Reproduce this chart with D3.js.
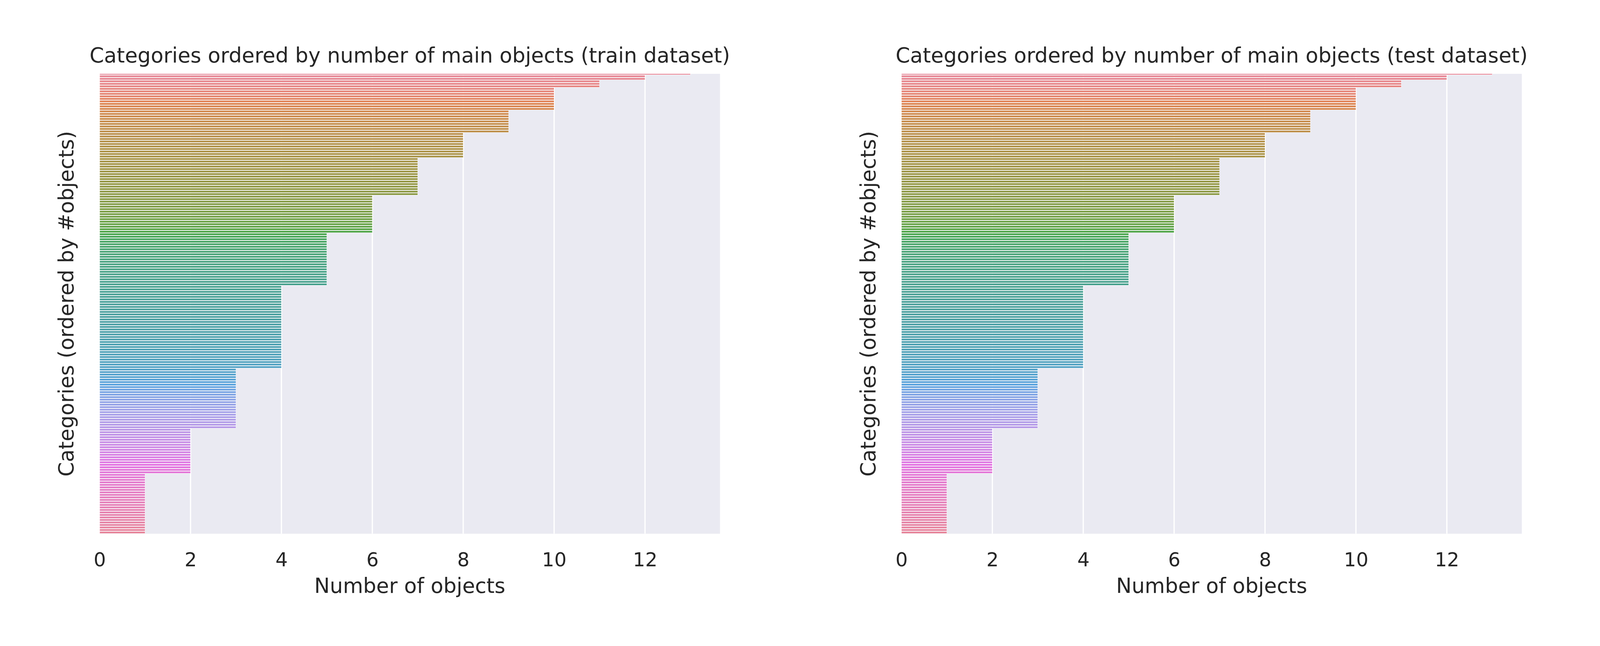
<!DOCTYPE html>
<html>
<head>
<meta charset="utf-8">
<script src="https://cdn.jsdelivr.net/npm/d3@7"></script>
<style>
  html, body { margin: 0; padding: 0; background: #fff; overflow: hidden; }
  #chart { display: block; width: 100vw; height: auto; }
  text { font-family: "DejaVu Sans", sans-serif; fill: #262626; }
</style>
</head>
<body>
<svg id="chart"></svg>
<script>
// number of main objects per category, run-length: how many categories have each count
const objectLevels = [13, 12, 11, 10, 9, 8, 7, 6, 5, 4, 3, 2, 1];
const trainCategoryCounts = [1, 2, 3, 9, 9, 10, 15, 15, 21, 33, 24, 18, 24];
const testCategoryCounts = [1, 2, 3, 9, 9, 10, 15, 15, 21, 33, 24, 18, 24];
const xTicks = [0, 2, 4, 6, 8, 10, 12];
const panelTitles = [
    "Categories ordered by number of main objects (train dataset)",
    "Categories ordered by number of main objects (test dataset)"
];
const xLabel = "Number of objects";
const yLabel = "Categories (ordered by #objects)";

const width = 4400;
const height = 1654;
const axTop = 203, axBottom = 1468;
const axW = 1706;
const axH = axBottom - axTop;
const panelX = [274, 2479];
const xMax = 13.65;

// seaborn's husl palette (husl.py), then barplot desaturation 0.75
const M = [[3.2406, -1.5372, -0.4986], [-0.9689, 1.8758, 0.0415], [0.0557, -0.2040, 1.0570]];
const refU = 0.19784, refV = 0.46834, kappa = 24389 / 27, epsilon = 216 / 24389;

function maxChroma(L, H) {
    const hrad = H / 360 * 2 * Math.PI;
    const sinH = Math.sin(hrad), cosH = Math.cos(hrad);
    const sub1 = Math.pow(L + 16, 3) / 1560896;
    const sub2 = sub1 > epsilon ? sub1 : L / kappa;
    let result = Infinity;
    M.forEach(([m1, m2, m3]) => {
        const topv = (0.99915 * m1 + 1.05122 * m2 + 1.14460 * m3) * sub2;
        const rbottom = 0.86330 * m3 - 0.17266 * m2;
        const lbottom = 0.12949 * m3 - 0.38848 * m1;
        const bottomv = (rbottom * sinH + lbottom * cosH) * sub2;
        [0, 1].forEach(t => {
            const C = L * (topv - 1.05122 * t) / (bottomv + 0.17266 * sinH * t);
            if (C > 0 && C < result) result = C;
        });
    });
    return result;
}

function huslToRgb(H, S, L) {
    const C = maxChroma(L, H) / 100 * S;
    const hrad = H / 360 * 2 * Math.PI;
    const U = Math.cos(hrad) * C, V = Math.sin(hrad) * C;
    const varY = L > 8 ? Math.pow((L + 16) / 116, 3) : L / kappa;
    const varU = U / (13 * L) + refU;
    const varV = V / (13 * L) + refV;
    const Y = varY;
    const X = -(9 * Y * varU) / ((varU - 4) * varV - varU * varV);
    const Z = (9 * Y - 15 * varV * Y - varV * X) / (3 * varV);
    return M.map(row => {
        const c = row[0] * X + row[1] * Y + row[2] * Z;
        const v = c <= 0.0031308 ? 12.92 * c : 1.055 * Math.pow(c, 1 / 2.4) - 0.055;
        return Math.max(0, Math.min(1, v));
    });
}

function huslPalette(n) {
    return d3.range(n).map(i => {
        const h = ((i / n + 0.01) % 1) * 359;
        const [r, g, b] = huslToRgb(h, 0.9 * 99, 0.65 * 99);
        const c = d3.hsl(d3.rgb(r * 255, g * 255, b * 255));
        c.s *= 0.75;
        return c.formatHex();
    });
}

const svg = d3.select("#chart")
    .attr("viewBox", `0 0 ${width} ${height}`)
    .attr("preserveAspectRatio", "xMinYMin meet");

svg.append("rect").attr("width", width).attr("height", height).attr("fill", "#fff");

function drawPanel(x0, title, counts, idx) {
    const values = objectLevels.flatMap((v, i) => Array(counts[i]).fill(v));
    const n = values.length;
    const colors = huslPalette(n);

    const xScale = d3.scaleLinear().domain([0, xMax]).range([0, axW]);
    // axes top sits at the centre of the first bar, as in the reference
    const step = axH / (n - 0.5);
    const yScale = d3.scaleBand()
        .domain(d3.range(n))
        .range([-step / 2, axH])
        .paddingInner(0.2)
        .paddingOuter(0.1);

    const g = svg.append("g").attr("transform", `translate(${x0},${axTop})`);

    g.append("clipPath").attr("id", "clip" + idx)
        .append("rect").attr("width", axW).attr("height", axH);

    g.append("rect")
        .attr("width", axW)
        .attr("height", axH)
        .attr("fill", "#EAEAF2");

    g.append("g")
        .selectAll("line")
        .data(xTicks)
        .enter()
        .append("line")
        .attr("x1", d => xScale(d))
        .attr("x2", d => xScale(d))
        .attr("y1", 0)
        .attr("y2", axH)
        .attr("stroke", "#fff")
        .attr("stroke-width", 3.5);

    g.append("g")
        .attr("clip-path", `url(#clip${idx})`)
        .selectAll("rect")
        .data(values)
        .enter()
        .append("rect")
        .attr("x", 0)
        .attr("y", (d, i) => yScale(i))
        .attr("width", d => xScale(d))
        .attr("height", yScale.bandwidth())
        .attr("fill", (d, i) => colors[i])
        .attr("stroke", "#fff")
        .attr("stroke-opacity", 0.85)
        .attr("stroke-width", 1.1);

    const xAxis = d3.axisBottom(xScale).tickValues(xTicks).tickSize(0).tickPadding(0);
    const ax = g.append("g")
        .attr("transform", `translate(0,${axH})`)
        .call(xAxis);
    ax.select(".domain").remove();
    ax.selectAll("text")
        .attr("y", 90)
        .attr("dy", 0)
        .attr("font-size", 53)
        .attr("font-family", "DejaVu Sans")
        .attr("fill", "#262626");

    g.append("text")
        .attr("x", axW / 2)
        .attr("y", 1631 - axTop)
        .attr("text-anchor", "middle")
        .attr("font-size", 57)
        .text(xLabel);

    g.append("text")
        .attr("transform", `translate(${202 - 274},${axH / 2}) rotate(-90)`)
        .attr("text-anchor", "middle")
        .attr("font-size", 57)
        .text(yLabel);

    g.append("text")
        .attr("x", axW / 2)
        .attr("y", 172 - axTop)
        .attr("text-anchor", "middle")
        .attr("font-size", 57)
        .text(title);
}

drawPanel(panelX[0], panelTitles[0], trainCategoryCounts, 0);
drawPanel(panelX[1], panelTitles[1], testCategoryCounts, 1);
</script>
</body>
</html>
